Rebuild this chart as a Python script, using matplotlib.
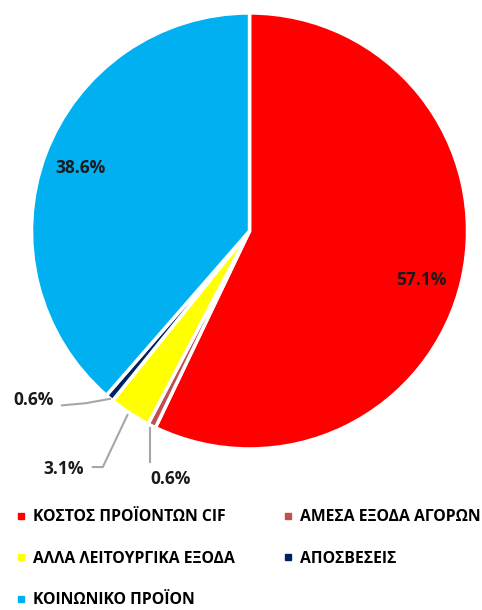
import matplotlib.pyplot as plt
from matplotlib.lines import Line2D

# data
labels = ["ΚΟΣΤΟΣ ΠΡΟΪΟΝΤΩΝ CIF", "ΑΜΕΣΑ ΕΞΟΔΑ ΑΓΟΡΩΝ", "ΑΛΛΑ ΛΕΙΤΟΥΡΓΙΚΑ ΕΞΟΔΑ",
          "ΑΠΟΣΒΕΣΕΙΣ", "ΚΟΙΝΩΝΙΚΟ ΠΡΟΪΟΝ"]
values = [57.1, 0.6, 3.1, 0.6, 38.6]
colors = ["#FF0000", "#C0504D", "#FFFF00", "#002060", "#00B0F0"]

fam = ["Open Sans", "DejaVu Sans"]
plt.rcParams["font.family"] = fam

fig = plt.figure(figsize=(4.82, 6.10), dpi=100)
ax = fig.add_axes([0.0654, 0.264, 0.9046, 0.7148])

wedges, _ = ax.pie(values, colors=colors, startangle=90, counterclock=False,
                   wedgeprops=dict(edgecolor="white", linewidth=2.5))
ax.set_xlim(-1, 1)
ax.set_ylim(-1, 1)
ax.set_aspect("equal")

# percentage labels (inside / outside with leader lines)
lab_pos = [(0.787, -0.225), (-0.36, -1.14), (-0.855, -1.09), (-0.99, -0.775), (-0.777, 0.29)]
leaders = [None,
           [(-0.458, -1.06), (-0.458, -0.906)],
           [(-0.719, -1.083), (-0.673, -1.083), (-0.56, -0.844)],
           [(-0.86, -0.80), (-0.75, -0.79), (-0.64, -0.77)],
           None]
for v, (x, y), ld in zip(values, lab_pos, leaders):
    ax.text(x, y, f"{v:.1f}%", ha="center", va="center", fontsize=12.5,
            fontweight="bold", color="#1a1a1a", clip_on=False)
    if ld:
        xs, ys = zip(*ld)
        ax.plot(xs, ys, color="#A6A6A6", lw=1.5, clip_on=False)

# legend, row-wise order
handles = [Line2D([], [], marker="s", ls="", color=c, markersize=5) for c in colors]
order = [0, 2, 4, 1, 3]
fig.legend([handles[i] for i in order], [labels[i] for i in order],
           ncol=2, loc="upper left", bbox_to_anchor=(0.004, 0.188),
           frameon=False, handlelength=0.6, handletextpad=0.45,
           labelspacing=1.62, columnspacing=3.1,
           prop=dict(family=fam, weight="bold", size=11.3))

fig.savefig("out.png", dpi=100)
